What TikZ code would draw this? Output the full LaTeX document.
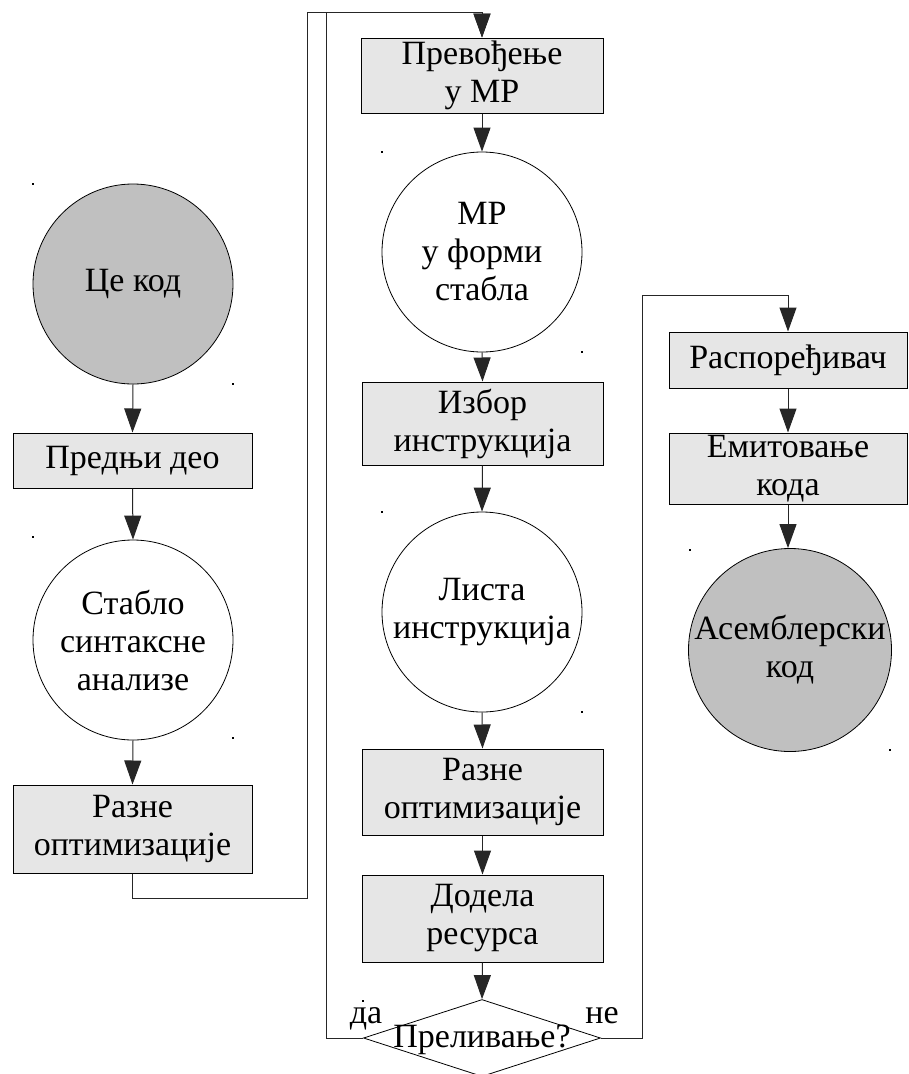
\documentclass[tikz,border=0pt]{standalone}
\usepackage{fontspec}
\setmainfont{Liberation Serif}
\newfontfamily\diafont{Liberation Serif}
\usetikzlibrary{arrows.meta,shapes.geometric}
\definecolor{boxgray}{HTML}{E6E6E6}
\definecolor{circgray}{HTML}{C0C0C0}
\tikzset{
  every node/.style={font=\diafont\fontsize{34}{38}\selectfont},
  procbox/.style={draw=black, line width=1pt, fill=boxgray, inner sep=0pt, align=center},
  datacirc/.style={draw=black, line width=0.8pt, fill=white, circle, minimum size=200pt, inner sep=0pt, align=center},
  endcirc/.style={datacirc, fill=circgray},
  arr/.style={draw=black!85, line width=1pt, -{Triangle[length=24pt,width=17pt]}},
  tinydot/.style={fill=black, inner sep=0pt, minimum size=1.5pt, rectangle}
}
\begin{document}
\begin{tikzpicture}[x=1pt,y=-1pt]
\useasboundingbox (0,0) rectangle (908,1074);
\fill[white] (0,0) rectangle (908,1074);

% left column
\node[endcirc] (ce) at (133,284) {Це код};
\node[procbox, minimum width=239pt, minimum height=55pt] (pred) at (132.5,460.5) {Предњи део};
\node[datacirc] (stab) at (133,640) {Стабло\\синтаксне\\анализе};
\node[procbox, minimum width=239pt, minimum height=88pt] (razL) at (132.5,829) {Разне\\оптимизације};

% middle column
\node[procbox, minimum width=242pt, minimum height=75pt] (prev) at (482,75.5) {Превођење\\у МР};
\node[datacirc] (mr) at (482,252) {МР\\у форми\\стабла};
\node[procbox, minimum width=241pt, minimum height=83pt] (izb) at (482.5,423.5) {Избор\\инструкција};
\node[datacirc] (list) at (482,612) {Листа\\инструкција};
\node[procbox, minimum width=241pt, minimum height=86pt] (razM) at (482.5,792) {Разне\\оптимизације};
\node[procbox, minimum width=241pt, minimum height=87pt] (dod) at (482.5,918.5) {Додела\\ресурса};
\node[draw=black, line width=0.8pt, fill=white, diamond, aspect=3, minimum width=237pt, minimum height=77pt, inner sep=0pt] (dia) at (482,1038) {};
\node[inner sep=0pt] (diatext) at (482,1040) {Преливање?};
\node[inner sep=0pt, anchor=base] (da) at (366,1023) {да};
\node[inner sep=0pt, anchor=base] (ne) at (602,1023) {не};

% right column
\node[procbox, minimum width=238pt, minimum height=56pt] (rasp) at (788,360) {Распоређивач};
\node[procbox, minimum width=238pt, minimum height=71pt] (emit) at (788,468.5) {Емитовање\\кода};
\node[endcirc] (asm) at (790,650) {Асемблерски\\код};

% connector bend points
\coordinate (l1) at (307,898);
\coordinate (l2) at (307,12);
\coordinate (l3) at (326,12);
\coordinate (r1) at (642,295);

% connectors
\draw[arr] (ce.south) -- (pred.north);
\draw[arr] (pred.south) -- (stab.north);
\draw[arr] (stab.south) -- (razL.north);
\draw[arr] (razL.south) |- (l1) -- (l2) -| (prev.north);
\draw[arr] (prev.south) -- (mr.north);
\draw[arr] (mr.south) -- (izb.north);
\draw[arr] (izb.south) -- (list.north);
\draw[arr] (list.south) -- (razM.north);
\draw[arr] (razM.south) -- (dod.north);
\draw[arr] (dod.south) -- (dia.north);
\draw[arr] (dia.west) -| (l3) -| (prev.north);
\draw[arr] (dia.east) -| (r1) -| (rasp.north);
\draw[arr] (rasp.south) -- (emit.north);
\draw[arr] (emit.south) -- (asm.north -| emit.south);

% small marks at shape corners
\foreach \p in {(33,184),(233,384),(33,537),(233,738),(382,152),(582,352),(382,512),(582,712),(690,550),(890,750),(363,1001)}
  \node[tinydot] at \p {};
\end{tikzpicture}
\end{document}
